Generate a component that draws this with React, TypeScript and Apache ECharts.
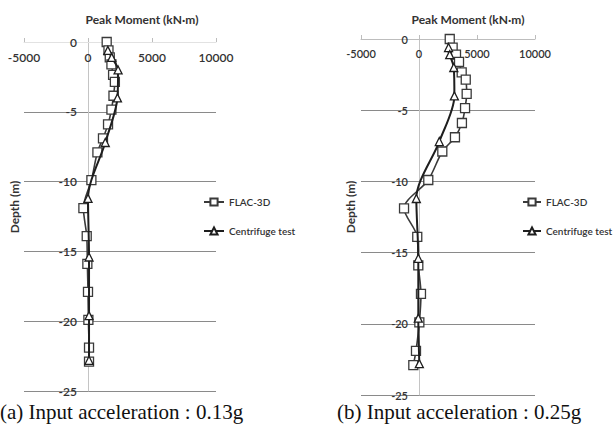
import React, { useEffect, useRef } from "react";
import * as echarts from "echarts";

const flacDepths = [0, -0.6, -1.1, -1.6, -2.35, -2.85, -3.85, -4.85, -5.9, -6.9, -7.9, -9.9, -11.9, -13.9, -15.9, -17.9, -19.9, -21.9, -22.9];
const flacA = [1460, 1600, 1700, 1830, 1960, 2100, 1990, 1830, 1565, 1170, 735, 265, -360, -100, -50, 0, 30, 80, 80];
const flacB = [2650, 2900, 3190, 3450, 3680, 4030, 4110, 3970, 3700, 3100, 2010, 800, -1290, -150, -60, 170, 30, -260, -490];

const cfDepths = [-0.6, -1.1, -2.0, -4.0, -7.2, -11.2, -15.4, -19.6, -22.8];
const cfA = [1550, 1850, 2350, 2300, 1350, 0, 80, 80, 80];
const cfB = [2550, 2650, 3000, 3050, 1750, -230, -60, -60, 30];

const xTicks = { min: -5000, max: 10000, interval: 5000 };
const yTicks = { min: -25, max: 0, interval: 5 };

const titleText = "Peak Moment (kN·m)";
const yName = "Depth (m)";
const seriesNames = ["FLAC-3D", "Centrifuge test"];
const captions = ["(a) Input acceleration : 0.13g", "(b) Input acceleration : 0.25g"];

const pair = (xs: number[], ys: number[]) => xs.map((v, i) => [v, ys[i]]);

export default function App() {
  const ref = useRef<HTMLDivElement>(null);
  useEffect(() => {
    if (!ref.current) return;
    const chart = echarts.init(ref.current, null, { renderer: "svg" });
    const font = "Lato, 'Open Sans', sans-serif";
    const grids = [
      { left: 24, top: 42, width: 192, height: 349, outerBoundsMode: "none", containLabel: false },
      { left: 361, top: 39, width: 174, height: 356, outerBoundsMode: "none", containLabel: false },
    ];
    const labelSizes = [12, 11];
    const xAxes = grids.map((_, i) => ({
      type: "value",
      gridIndex: i,
      position: "top",
      ...xTicks,
      axisLine: { show: true, onZero: false, lineStyle: { color: i === 0 ? "#e2e2e2" : "#bdbdbd", width: 1 } },
      axisTick: { show: true, inside: false, length: 4, lineStyle: { color: "#bdbdbd" } },
      axisLabel: { inside: true, margin: 9, color: "#333", fontFamily: font, fontSize: labelSizes[i], fontWeight: 600, formatter: (v: number) => String(v) },
      splitLine: { show: false },
    }));
    const yAxes = grids.map((g, i) => ({
      type: "value",
      gridIndex: i,
      ...yTicks,
      offset: -(g.width * (0 - xTicks.min)) / (xTicks.max - xTicks.min),
      axisLine: { show: true, onZero: false, lineStyle: { color: "#c4c4c4", width: 1 } },
      axisTick: { show: false },
      axisLabel: { margin: 11, color: "#333", fontFamily: font, fontSize: labelSizes[i], fontWeight: 600, showMaxLabel: true, formatter: (v: number) => String(v) },
      splitLine: { show: true, lineStyle: { color: "#8a8a8a", width: 1 } },
    }));
    const mk = (name: string, data: number[][], idx: number, symbol: string, size: number, color: string, width: number) => ({
      name,
      type: "line",
      xAxisIndex: idx,
      yAxisIndex: idx,
      data,
      smooth: 0.3,
      symbol,
      symbolSize: size,
      showSymbol: true,
      lineStyle: { color, width },
      itemStyle: { color: "#fff", borderColor: color, borderWidth: 1.3 },
      z: symbol === "rect" ? 3 : 4,
    });
    const series = [
      mk(seriesNames[0], pair(flacA, flacDepths), 0, "rect", 9, "#3a3a3a", 1.6),
      mk(seriesNames[1], pair(cfA, cfDepths), 0, "triangle", 8, "#1e1e1e", 2),
      mk(seriesNames[0], pair(flacB, flacDepths), 1, "rect", 9, "#3a3a3a", 1.6),
      mk(seriesNames[1], pair(cfB, cfDepths), 1, "triangle", 8, "#1e1e1e", 2),
    ];
    const legendBase = {
      orient: "vertical",
      data: seriesNames,
      itemWidth: 20,
      itemHeight: 9,
      itemGap: 19,
      selectedMode: false,
      textStyle: { color: "#333", fontFamily: font, fontSize: 10, fontWeight: 600 },
    };
    chart.setOption({
      animation: false,
      backgroundColor: "#fff",
      grid: grids,
      xAxis: xAxes,
      yAxis: yAxes,
      series,
      legend: [
        { ...legendBase, left: 198, top: 192 },
        { ...legendBase, left: 517, top: 192, itemWidth: 18 },
      ],
      title: [
        { text: titleText, left: 137, top: 8, textAlign: "center", textStyle: { fontFamily: font, fontSize: 12, fontWeight: 700, color: "#333" } },
        { text: titleText, left: 463, top: 8, textAlign: "center", textStyle: { fontFamily: font, fontSize: 12, fontWeight: 700, color: "#333" } },
      ],
      graphic: [
        { type: "text", x: 14, y: 207, rotation: Math.PI / 2, style: { text: yName, fill: "#333", font: `700 12px ${font}`, textAlign: "center", textVerticalAlign: "middle" } },
        { type: "text", x: 350, y: 207, rotation: Math.PI / 2, style: { text: yName, fill: "#333", font: `700 12px ${font}`, textAlign: "center", textVerticalAlign: "middle" } },
        { type: "text", x: 0, y: 412, style: { text: captions[0], fill: "#111", font: "21px 'Liberation Serif', serif", textAlign: "left", textVerticalAlign: "middle" } },
        { type: "text", x: 337, y: 412, style: { text: captions[1], fill: "#111", font: "21px 'Liberation Serif', serif", textAlign: "left", textVerticalAlign: "middle" } },
      ],
    });
    return () => chart.dispose();
  }, []);
  return <div ref={ref} style={{ position: "fixed", left: 0, top: 0, width: 615, height: 436 }} />;
}
